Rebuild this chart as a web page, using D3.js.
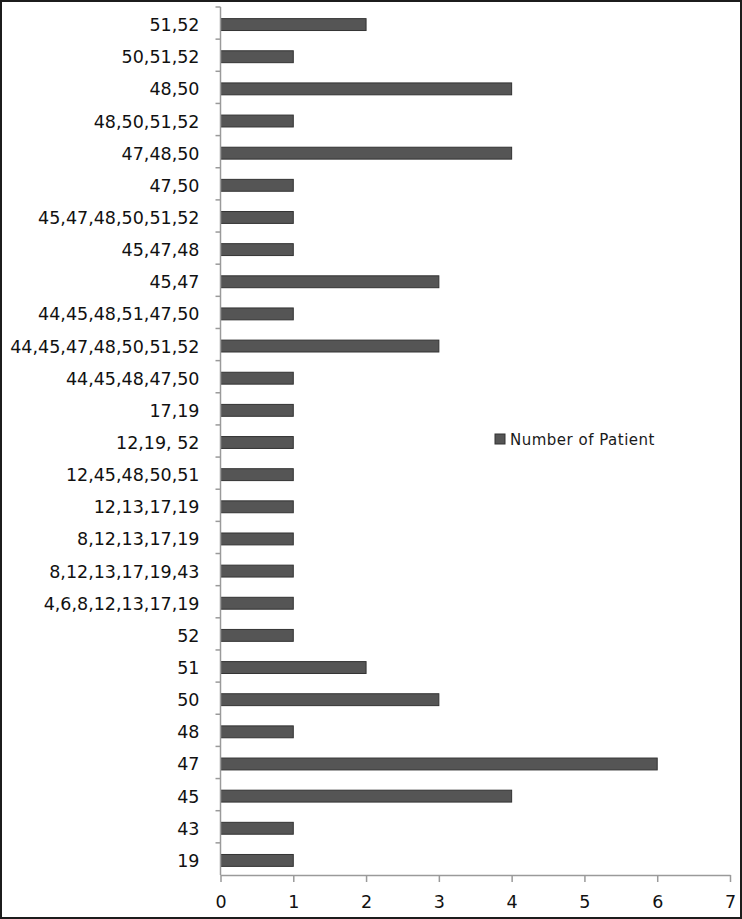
<!DOCTYPE html>
<html lang="en">
<head>
  <meta charset="UTF-8">
  <title>Number of Patient</title>
  <style>
    html, body {
      margin: 0;
      padding: 0;
      background-color: #fff;
    }

    .frame {
      fill: none;
      stroke: #1c1c1c;
      stroke-width: 2;
    }

    .bar {
      fill: #555;
      stroke: #333;
      stroke-width: 1;
    }

    .axis path, .axis line {
      stroke: #9a9a9a;
      stroke-width: 1.5;
    }

    .axis text {
      font-family: "DejaVu Sans", sans-serif;
      font-size: 17.5px;
      fill: #111;
    }

    .legend text {
      font-family: "DejaVu Sans", sans-serif;
      font-size: 15px;
      letter-spacing: 0.5px;
      fill: #1a1a1a;
    }
  </style>
</head>
<body>
  <script src="https://cdn.jsdelivr.net/npm/d3@7"></script>
  <script>
    // categories listed bottom to top, as in the picture
    const categories = [
      '19', '43', '45', '47', '48', '50', '51', '52',
      '4,6,8,12,13,17,19', '8,12,13,17,19,43', '8,12,13,17,19', '12,13,17,19',
      '12,45,48,50,51', '12,19, 52', '17,19', '44,45,48,47,50',
      '44,45,47,48,50,51,52', '44,45,48,51,47,50', '45,47', '45,47,48',
      '45,47,48,50,51,52', '47,50', '47,48,50', '48,50,51,52',
      '48,50', '50,51,52', '51,52'
    ]
    const patients = [
      1, 1, 4, 6, 1, 3, 2, 1,
      1, 1, 1, 1,
      1, 1, 1, 1,
      3, 1, 3, 1,
      1, 1, 4, 1,
      4, 1, 2
    ]
    const xTicks = [0, 1, 2, 3, 4, 5, 6, 7]
    const seriesName = 'Number of Patient'

    const width = 742,
          height = 919,
          margin = { top: 7, right: 12, bottom: 44, left: 220.5 }

    const svg = d3.select('body')
      .append('svg')
      .attr('width', width)
      .attr('height', height)

    const x = d3.scaleLinear()
      .domain([0, 7])
      .range([margin.left, 730])

    const y = d3.scaleBand()
      .domain(categories)
      .range([height - margin.bottom, margin.top])
      .paddingInner(0.63)
      .paddingOuter(0.315)

    const band = d3.scaleBand()
      .domain(categories)
      .range([height - margin.bottom, margin.top])

    // bars
    svg.append('g')
      .selectAll('rect')
        .data(categories)
      .enter()
        .append('rect')
        .attr('class', 'bar')
        .attr('x', x(0))
        .attr('y', d => y(d) + 1.5)
        .attr('width', (d, i) => x(patients[i]) - x(0))
        .attr('height', y.bandwidth())

    // x axis
    svg.append('g')
      .attr('class', 'axis')
      .attr('transform', `translate(0,${height - margin.bottom})`)
      .call(d3.axisBottom(x).tickValues(xTicks).tickFormat(d3.format('d'))
        .tickSize(7).tickPadding(14).tickSizeOuter(0))

    // y axis: ticks sit between categories
    const yAxis = svg.append('g')
      .attr('class', 'axis')
      .attr('transform', `translate(${margin.left},0)`)

    yAxis.append('path')
      .attr('d', `M0,${band.range()[0]}V${band.range()[1]}`)
      .attr('fill', 'none')

    yAxis.selectAll('line')
        .data(categories)
      .enter()
        .append('line')
        .attr('x1', -5)
        .attr('x2', 0)
        .attr('y1', d => band(d))
        .attr('y2', d => band(d))

    yAxis.selectAll('text')
        .data(categories)
      .enter()
        .append('text')
        .attr('x', -21)
        .attr('y', d => band(d) + band.bandwidth() / 2 + 8)
        .attr('text-anchor', 'end')
        .text(d => d)

    // legend
    const legend = svg.append('g')
      .attr('class', 'legend')
      .attr('transform', 'translate(495,434)')

    legend.append('rect')
      .attr('width', 10)
      .attr('height', 10)
      .attr('fill', '#555')
      .attr('stroke', '#333')

    legend.append('text')
      .attr('x', 15)
      .attr('y', 11)
      .text(seriesName)

    svg.append('rect')
      .attr('class', 'frame')
      .attr('x', 1)
      .attr('y', 1)
      .attr('width', width - 2)
      .attr('height', height - 2)
  </script>
</body>
</html>
